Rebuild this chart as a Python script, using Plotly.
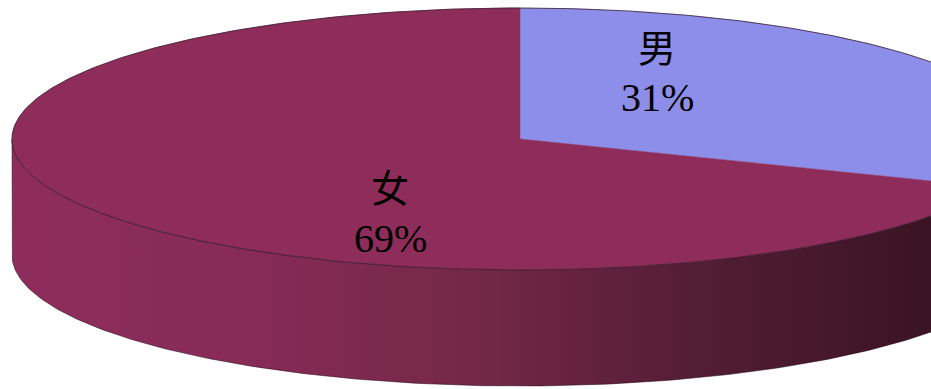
import numpy as np
import plotly.graph_objects as go

# Survey split by sex
labels = ["男", "女"]
values = [31, 69]
top_colors = ["#8d8ee9", "#8e2d5a"]
side_scales = [
    [[0, "#6f70c0"], [1, "#3c3d70"]],
    [[0, "#8e2d5c"], [0.25, "#872b57"], [0.5, "#742849"], [0.75, "#531d34"], [1, "#3a1423"]],
]

# Layout of the disc (axis units == pixels, y axis points down)
W, H = 931, 389
CX, CY = 520, 139        # centre of the top face
RX, RY = 508, 131        # ellipse radii of the top face
DEPTH = 116              # thickness of the disc
START_DEG = 90           # first slice starts at 12 o'clock, running clockwise


def ell(theta_deg, dy=0.0):
    t = np.radians(theta_deg)
    return CX + RX * np.cos(t), CY - RY * np.sin(t) + dy


fig = go.Figure()

total = float(sum(values))
spans = []
a0 = START_DEG
for v in values:
    a1 = a0 - 360.0 * v / total
    spans.append((a0, a1))
    a0 = a1

# Side walls: only the front half (angles between -180 and 0) is visible
for (a0, a1), scale in zip(spans, side_scales):
    # normalise into the [-360, 0] window used for the front wall
    lo, hi = min(a0, a1), max(a0, a1)
    s_lo, s_hi = max(lo, -180.0), min(hi, 0.0)
    if s_hi <= s_lo:
        continue
    th = np.linspace(s_hi, s_lo, 200)
    xt, yt = ell(th)
    xb, yb = ell(th[::-1], DEPTH)
    xs = np.concatenate([xt, xb, [xt[0]]])
    ys = np.concatenate([yt, yb, [yt[0]]])
    fig.add_trace(go.Scatter(
        x=xs, y=ys, mode="lines", fill="toself",
        line=dict(color="rgba(40,10,25,0.55)", width=1),
        fillgradient=dict(type="horizontal", colorscale=scale, start=12, stop=931),
        hoverinfo="skip", showlegend=False,
    ))

# Top faces of the slices
for (a0, a1), col in zip(spans, top_colors):
    th = np.linspace(a0, a1, 400)
    xe, ye = ell(th)
    xs = np.concatenate([[CX], xe, [CX]])
    ys = np.concatenate([[CY], ye, [CY]])
    fig.add_trace(go.Scatter(
        x=xs, y=ys, mode="lines", fill="toself", fillcolor=col,
        line=dict(color=col, width=0.5),
        hoverinfo="skip", showlegend=False,
    ))

# Thin outline around the top face
th = np.linspace(0, 360, 720)
xo, yo = ell(th)
fig.add_trace(go.Scatter(x=xo, y=yo, mode="lines",
                         line=dict(color="rgba(60,30,50,0.8)", width=1),
                         hoverinfo="skip", showlegend=False))

# Slice labels: name above percentage
label_pos = [(657, 45, 97), (390, 185, 238)]
for lab, v, (lx, ly1, ly2) in zip(labels, values, label_pos):
    fig.add_annotation(x=lx, y=ly1, text=lab, showarrow=False,
                       font=dict(family="Noto Sans CJK TC", size=38, color="black"))
    fig.add_annotation(x=lx, y=ly2, text=f"{round(100 * v / total)}%", showarrow=False,
                       font=dict(family="Liberation Serif", size=40, color="black"))

fig.update_layout(
    width=W, height=H,
    margin=dict(l=0, r=0, t=0, b=0),
    paper_bgcolor="white", plot_bgcolor="white",
    xaxis=dict(range=[0, W], visible=False, fixedrange=True),
    yaxis=dict(range=[H, 0], visible=False, fixedrange=True),
    showlegend=False,
)

fig.write_html("out.html")
